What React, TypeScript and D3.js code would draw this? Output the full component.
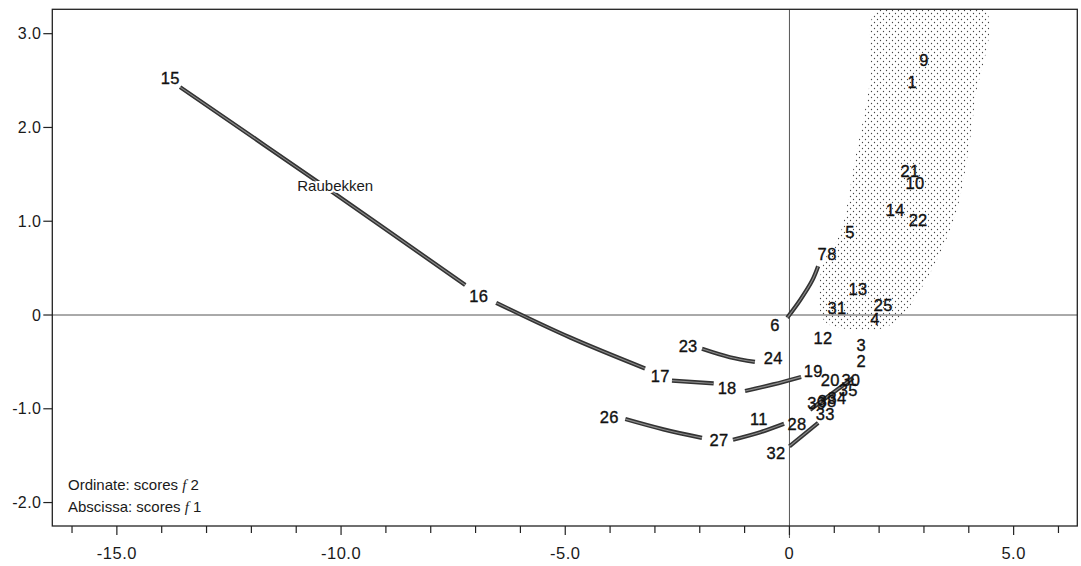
import React from "react";
import * as d3 from "d3";

// Axis ranges
const xDomain: [number, number] = [-16.44, 6.42];
const yDomain: [number, number] = [-2.25, 3.26];

const xMajorTicks = [-15, -10, -5, 0, 5];
const xMajorLabels = ["-15.0", "-10.0", "-5.0", "0", "5.0"];
const xMinorTicks = [-16, -14, -13, -12, -11, -9, -8, -7, -6, -4, -3, -2, -1, 1, 2, 3, 4, 6];
const yTicks = [3, 2, 1, 0, -1, -2];
const yTickLabels = ["3.0", "2.0", "1.0", "0", "-1.0", "-2.0"];

// Station numbers (label centres, in score units)
const stations: { id: string; x: number; y: number }[] = [
  { id: "15", x: -13.81, y: 2.53 },
  { id: "16", x: -6.93, y: 0.2 },
  { id: "17", x: -2.88, y: -0.65 },
  { id: "18", x: -1.39, y: -0.78 },
  { id: "19", x: 0.53, y: -0.6 },
  { id: "23", x: -2.26, y: -0.33 },
  { id: "24", x: -0.36, y: -0.46 },
  { id: "26", x: -4.02, y: -1.09 },
  { id: "27", x: -1.57, y: -1.33 },
  { id: "11", x: -0.68, y: -1.11 },
  { id: "28", x: 0.17, y: -1.16 },
  { id: "32", x: -0.3, y: -1.47 },
  { id: "33", x: 0.8, y: -1.06 },
  { id: "39", x: 0.61, y: -0.94 },
  { id: "38", x: 0.84, y: -0.92 },
  { id: "34", x: 1.06, y: -0.88 },
  { id: "20", x: 0.91, y: -0.69 },
  { id: "30", x: 1.37, y: -0.69 },
  { id: "35", x: 1.31, y: -0.8 },
  { id: "2", x: 1.6, y: -0.49 },
  { id: "3", x: 1.6, y: -0.32 },
  { id: "12", x: 0.75, y: -0.24 },
  { id: "6", x: -0.32, y: -0.11 },
  { id: "7", x: 0.73, y: 0.65 },
  { id: "8", x: 0.95, y: 0.65 },
  { id: "5", x: 1.35, y: 0.88 },
  { id: "13", x: 1.53, y: 0.28 },
  { id: "31", x: 1.06, y: 0.07 },
  { id: "25", x: 2.09, y: 0.11 },
  { id: "4", x: 1.91, y: -0.04 },
  { id: "9", x: 3.0, y: 2.72 },
  { id: "1", x: 2.74, y: 2.48 },
  { id: "21", x: 2.69, y: 1.54 },
  { id: "10", x: 2.8, y: 1.41 },
  { id: "14", x: 2.36, y: 1.12 },
  { id: "22", x: 2.87, y: 1.01 },
];

// Drawn track segments between stations (gaps left around the numbers)
const tracks: [number, number][][] = [
  [[-13.59, 2.43], [-10.4, 1.38], [-7.23, 0.32]],
  [[-6.54, 0.13], [-4.89, -0.24], [-3.22, -0.57]],
  [[-2.62, -0.7], [-1.69, -0.73]],
  [[-0.99, -0.81], [-0.36, -0.74], [0.26, -0.66]],
  [[-1.95, -0.36], [-1.33, -0.45], [-0.77, -0.5]],
  [[-3.66, -1.11], [-2.81, -1.22], [-1.95, -1.31]],
  [[-1.26, -1.33], [-0.65, -1.25], [-0.12, -1.16]],
  [[0.0, -1.4], [0.64, -1.15]],
  [[0.46, -1.01], [1.42, -0.67]],
  [[-0.05, -0.03], [0.24, 0.16], [0.51, 0.37], [0.64, 0.52]],
];

// Stippled zone outline
const shadedZone: [number, number][] = [
  [1.96, 3.26], [1.8, 2.5], [1.46, 1.65], [1.13, 0.87], [0.75, 0.55],
  [0.66, 0.19], [0.73, -0.03], [0.95, -0.12], [1.35, -0.15], [2.02, -0.15],
  [2.42, -0.05], [2.87, 0.23], [3.29, 0.59], [3.7, 1.06], [3.96, 1.65],
  [4.14, 2.29], [4.36, 3.26],
];

const riverLabel = { text: "Raubekken", x: -10.13, y: 1.38 };

const W = 1081;
const H = 566;
const frame = { left: 52.3, right: 1077.3, top: 9.3, bottom: 526 };
const font = "'Liberation Sans', Arial, Helvetica, sans-serif";

export default function App() {
  const x = d3.scaleLinear().domain(xDomain).range([frame.left, frame.right]);
  const y = d3.scaleLinear().domain(yDomain).range([frame.bottom, frame.top]);

  const trackLine = d3
    .line<[number, number]>()
    .x((d) => x(d[0]))
    .y((d) => y(d[1]))
    .curve(d3.curveCatmullRom);

  const zoneLine = d3
    .line<[number, number]>()
    .x((d) => x(d[0]))
    .y((d) => y(d[1]))
    .curve(d3.curveCatmullRomClosed);

  return (
    <svg
      width={W}
      height={H}
      style={{ position: "absolute", left: 0, top: 0, background: "#fff" }}
      fontFamily={font}
    >
      <defs>
        <pattern id="stipple" width={6} height={6} patternUnits="userSpaceOnUse">
          <circle cx={1.5} cy={1.5} r={0.65} fill="#444" />
          <circle cx={4.5} cy={4.5} r={0.65} fill="#444" />
        </pattern>
        <clipPath id="plotClip">
          <rect
            x={frame.left}
            y={frame.top}
            width={frame.right - frame.left}
            height={frame.bottom - frame.top}
          />
        </clipPath>
      </defs>

      {/* stippled zone */}
      <path d={zoneLine(shadedZone) ?? ""} fill="url(#stipple)" clipPath="url(#plotClip)" />

      {/* zero lines */}
      <line x1={x(0)} x2={x(0)} y1={frame.top} y2={frame.bottom + 12} stroke="#555" strokeWidth={1} />
      <line x1={frame.left} x2={frame.right} y1={y(0)} y2={y(0)} stroke="#555" strokeWidth={1} />

      {/* frame */}
      <rect
        x={frame.left}
        y={frame.top}
        width={frame.right - frame.left}
        height={frame.bottom - frame.top}
        fill="none"
        stroke="#222"
        strokeWidth={1.3}
      />

      {/* tracks */}
      {tracks.map((t, i) => (
        <g key={i}>
          <path d={trackLine(t) ?? ""} fill="none" stroke="#333" strokeWidth={4.2} strokeLinecap="butt" />
          <path d={trackLine(t) ?? ""} fill="none" stroke="#8c8c8c" strokeWidth={1.1} strokeLinecap="butt" />
        </g>
      ))}

      {/* y axis */}
      {yTicks.map((t, i) => (
        <g key={t}>
          <line x1={frame.left - 9} x2={frame.left} y1={y(t)} y2={y(t)} stroke="#222" strokeWidth={1.2} />
          <text x={frame.left - 11} y={y(t) + 5.5} textAnchor="end" fontSize={16} letterSpacing={0.4} fill="#1a1a1a">
            {yTickLabels[i]}
          </text>
        </g>
      ))}

      {/* x axis */}
      {xMinorTicks.map((t) => (
        <line key={t} x1={x(t)} x2={x(t)} y1={frame.bottom} y2={frame.bottom + 7} stroke="#222" strokeWidth={1.2} />
      ))}
      {xMajorTicks.map((t, i) => (
        <g key={t}>
          <line x1={x(t)} x2={x(t)} y1={frame.bottom} y2={frame.bottom + 9} stroke="#222" strokeWidth={1.2} />
          <text x={x(t)} y={559} textAnchor="middle" fontSize={16.5} letterSpacing={0.5} fill="#1a1a1a">
            {xMajorLabels[i]}
          </text>
        </g>
      ))}

      {/* station numbers */}
      {stations.map((s) => (
        <text
          key={s.id}
          x={x(s.x)}
          y={y(s.y) + 6}
          textAnchor="middle"
          fontSize={16.5}
          letterSpacing={0.3}
          fill="#111"
          stroke="#111"
          strokeWidth={0.35}
        >
          {s.id}
        </text>
      ))}

      <text
        x={x(riverLabel.x)}
        y={y(riverLabel.y) + 5}
        textAnchor="middle"
        fontSize={15}
        fill="#1a1a1a"
        stroke="#fff"
        strokeWidth={4}
        paintOrder="stroke"
      >
        {riverLabel.text}
      </text>

      {/* axis notes */}
      <text x={68} y={490} fontSize={15} fill="#1a1a1a">
        Ordinate: scores <tspan fontStyle="italic" fontFamily="'Liberation Serif', serif">f</tspan> 2
      </text>
      <text x={68} y={512} fontSize={15} fill="#1a1a1a">
        Abscissa: scores <tspan fontStyle="italic" fontFamily="'Liberation Serif', serif">f</tspan> 1
      </text>
    </svg>
  );
}
